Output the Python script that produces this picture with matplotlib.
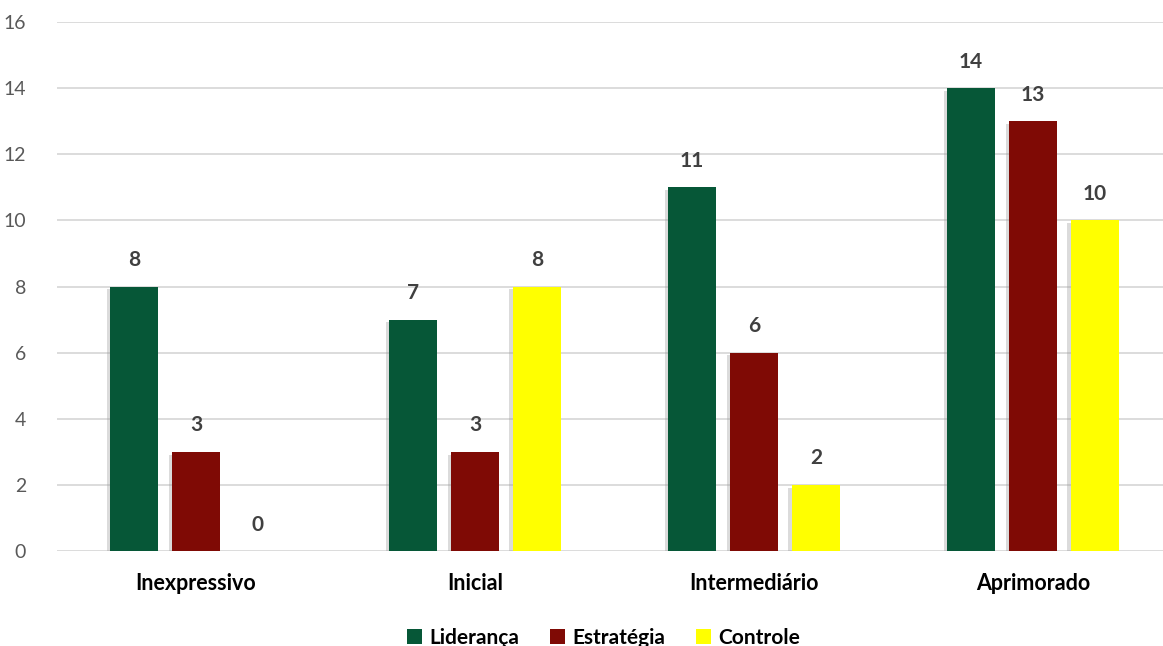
import matplotlib
matplotlib.use("Agg")
import matplotlib.pyplot as plt
import matplotlib.patheffects as pe
from matplotlib.patches import Patch
import numpy as np

categories = ["Inexpressivo", "Inicial", "Intermediário", "Aprimorado"]
series_names = ["Liderança", "Estratégia", "Controle"]
lideranca = [8, 7, 11, 14]
estrategia = [3, 3, 6, 13]
controle = [0, 8, 2, 10]
colors = ["#065737", "#7f0a05", "#ffff00"]

plt.rcParams["font.family"] = ["Lato", "DejaVu Sans"]

fig = plt.figure(figsize=(11.63, 6.46), dpi=100)
ax = fig.add_axes([0.0486, 0.147, 0.9514, 0.819])

x = np.arange(len(categories))
width = 0.172
offset = 0.222
shadow = [pe.SimplePatchShadow(offset=(-2.5, -2), shadow_rgbFace="#9a9a9a", alpha=0.35), pe.Normal()]

for i, (vals, c) in enumerate(zip([lideranca, estrategia, controle], colors)):
    xs = x + (i - 1) * offset
    bars = ax.bar(xs, vals, width=width, color=c, zorder=3)
    for b in bars:
        b.set_path_effects(shadow)
    for xx, v in zip(xs, vals):
        ax.text(xx, v + 0.5, f"{v}", ha="center", va="bottom", fontsize=15,
                fontweight="bold", color="#404040", zorder=4)

ax.set_ylim(0, 16)
ax.set_yticks(range(0, 17, 2))
ax.set_xlim(-0.5, 3.466)
ax.set_xticks(x)
ax.set_xticklabels(categories, fontsize=15.5, fontweight="bold", color="#000000")
ax.tick_params(axis="y", labelsize=14, labelcolor="#595959", length=0, pad=22)
ax.tick_params(axis="x", length=0, pad=16)
ax.grid(axis="y", color="#d9d9d9", linewidth=1.3, zorder=0)
for s in ax.spines.values():
    s.set_visible(False)
ax.set_axisbelow(True)

handles = [Patch(facecolor=c, label=n) for c, n in zip(colors, series_names)]
fig.legend(handles=handles, loc="lower center", bbox_to_anchor=(0.519, -0.032), ncol=3, frameon=False,
           handlelength=0.7, handleheight=0.7, handletextpad=0.35, columnspacing=1.5,
           prop={"size": 15, "weight": "bold"})

fig.savefig("out.png", dpi=100)
